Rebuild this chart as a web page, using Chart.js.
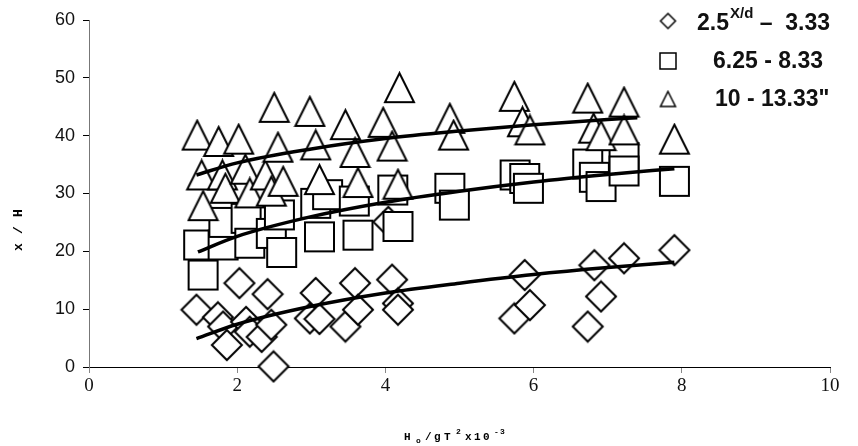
<!DOCTYPE html>
<html>
<head>
<meta charset="utf-8">
<script src="https://cdn.jsdelivr.net/npm/chart.js@4.4.0/dist/chart.umd.min.js"></script>
<style>
  html, body { margin: 0; padding: 0; background: #fff; }
  #wrap { width: 858px; height: 446px; }
</style>
</head>
<body>
<div id="wrap"><canvas id="chart"></canvas></div>
<script>
// spacing group 2.5 - 3.33
const diamondX = [1.45, 1.74, 1.81, 1.86, 2.03, 2.12, 2.17, 2.33, 2.41, 2.46, 2.49, 2.98, 3.06, 3.11,
  3.46, 3.59, 3.63, 4.04, 4.09, 4.17, 4.17, 5.74, 5.88, 5.95, 6.73, 6.82, 6.91, 7.22, 7.90];
const diamondY = [9.9, 8.6, 7.0, 3.8, 14.5, 7.8, 6.1, 5.2, 12.6, 7.3, 0.1, 8.4, 12.8, 8.3,
  7.0, 14.5, 9.9, 25.1, 15.1, 11.0, 9.9, 8.4, 15.9, 10.7, 7.0, 17.6, 12.2, 18.8, 20.2];

// spacing group 6.25 - 8.33
const squareX = [1.48, 1.54, 1.81, 1.82, 2.12, 2.17, 2.46, 2.57, 2.60, 3.06, 3.11, 3.22, 3.58, 3.63,
  4.10, 4.17, 4.87, 4.93, 5.75, 5.88, 5.93, 6.73, 6.82, 6.91, 7.22, 7.22, 7.90];
const squareY = [21.1, 15.9, 21.1, 25.0, 25.7, 21.4, 23.1, 26.3, 19.8, 28.3, 22.5, 29.8, 28.7, 22.8,
  30.6, 24.3, 30.9, 28.0, 33.2, 32.6, 30.9, 35.1, 32.8, 31.2, 36.2, 33.9, 32.1];

// spacing group 10 - 13.33
const triangleX = [1.46, 1.52, 1.54, 1.75, 1.80, 1.84, 2.02, 2.11, 2.17, 2.38, 2.46, 2.50, 2.55, 2.62,
  2.98, 3.06, 3.11, 3.46, 3.59, 3.63, 3.97, 4.09, 4.17, 4.19, 4.87, 4.92, 5.74, 5.85, 5.95,
  6.73, 6.81, 6.91, 7.22, 7.22, 7.90];
const triangleY = [40.1, 33.2, 27.9, 39.0, 33.2, 30.9, 39.4, 34.2, 30.1, 33.2, 30.4, 44.9, 38.0, 32.1,
  44.2, 38.4, 32.4, 41.9, 37.1, 31.9, 42.3, 38.2, 31.6, 48.3, 43.0, 40.1, 46.8, 42.4, 41.0,
  46.5, 41.3, 40.0, 45.8, 41.0, 39.4];

// logarithmic trend lines
const trendDiamondX = [1.45, 2, 3, 4, 5, 6, 7, 7.9];
const trendDiamondY = [4.9, 7.4, 10.5, 12.8, 14.5, 16.0, 17.2, 18.1];
const trendSquareX = [1.47, 2, 3, 4, 5, 6, 7, 7.9];
const trendSquareY = [19.9, 22.6, 26.0, 28.5, 30.4, 32.0, 33.3, 34.3];
const trendTriangleX = [1.45, 2, 3, 4, 5, 6, 7, 7.4];
const trendTriangleY = [33.2, 35.3, 37.7, 39.5, 40.8, 41.9, 42.8, 43.1];

const xTicks = [0, 2, 4, 6, 8, 10];
const yTicks = [0, 10, 20, 30, 40, 50, 60];

function toPoints(xs, ys) {
  return xs.map((x, i) => ({ x: x, y: ys[i] }));
}

// white-filled outlined markers
function makeMarker(shape, size, lw) {
  const c = document.createElement('canvas');
  const pad = Math.ceil(lw);
  c.width = c.height = size + pad * 2;
  const g = c.getContext('2d');
  const m = pad, mid = pad + size / 2;
  g.beginPath();
  if (shape === 'diamond') {
    g.moveTo(mid, m); g.lineTo(m + size, mid); g.lineTo(mid, m + size); g.lineTo(m, mid);
  } else if (shape === 'square') {
    g.rect(m, m, size, size);
  } else {
    g.moveTo(mid, m); g.lineTo(m + size, m + size); g.lineTo(m, m + size);
  }
  g.closePath();
  g.fillStyle = '#fff';
  g.fill();
  g.lineWidth = lw;
  g.strokeStyle = '#000';
  g.stroke();
  return c;
}

const markers = {
  diamond: makeMarker('diamond', 30, 2),
  square: makeMarker('square', 29, 2),
  triangle: makeMarker('triangle', 29, 2)
};
const legendMarkers = {
  diamond: makeMarker('diamond', 15, 1.5),
  square: makeMarker('square', 16, 1.5),
  triangle: makeMarker('triangle', 15, 1.5)
};

function scatterSet(label, data, style, order) {
  return {
    type: 'scatter', label: label, data: data, pointStyle: style,
    pointRadius: 15, pointHoverRadius: 15, borderWidth: 0, order: order, clip: false
  };
}

function trendSet(data) {
  return {
    type: 'line', data: data, showLine: true, borderColor: '#000', borderWidth: 3.5,
    pointRadius: 0, tension: 0.4, cubicInterpolationMode: 'monotone', fill: false, order: 0
  };
}

// axis titles and the legend block
const annotations = {
  id: 'annotations',
  afterDraw(chart) {
    const ctx = chart.ctx;
    ctx.save();
    ctx.fillStyle = '#000';
    ctx.textBaseline = 'alphabetic';

    // x title: H_o/gT^2 x10^-3
    const mono = 'bold 11px "Liberation Mono", "DejaVu Sans Mono", monospace';
    const monoSmall = 'bold 8px "Liberation Mono", "DejaVu Sans Mono", monospace';
    const base = 440;
    const parts = [
      ['H', 404, 0, mono], ['o', 416, 3, monoSmall], ['/', 425, 0, mono], ['g', 434, 0, mono],
      ['T', 444, 0, mono], ['2', 456, -6, monoSmall], ['x', 465, 0, mono], ['1', 474, 0, mono],
      ['0', 483, 0, mono], ['-', 494, -6, monoSmall], ['3', 500, -6, monoSmall]
    ];
    ctx.textAlign = 'left';
    parts.forEach(p => { ctx.font = p[3]; ctx.fillText(p[0], p[1], base + p[2]); });

    // y title, rotated
    ctx.save();
    ctx.translate(19, 230);
    ctx.rotate(-Math.PI / 2);
    ctx.font = 'bold 13px "Liberation Mono", "DejaVu Sans Mono", monospace';
    ctx.textAlign = 'center';
    ctx.textBaseline = 'middle';
    ['x', '/', 'H'].forEach((ch, i) => ctx.fillText(ch, (i - 1) * 17, 0));
    ctx.restore();

    // legend
    const rows = [
      [legendMarkers.diamond, 21],
      [legendMarkers.square, 61],
      [legendMarkers.triangle, 99]
    ];
    rows.forEach(r => ctx.drawImage(r[0], 668 - r[0].width / 2, r[1] - r[0].height / 2));
    const big = 'bold 23px "Liberation Sans", Arial, sans-serif';
    const sup = 'bold 15px "Liberation Sans", Arial, sans-serif';
    ctx.textAlign = 'left';
    ctx.textBaseline = 'middle';
    ctx.fillStyle = '#111';
    ctx.font = big;
    ctx.fillText('2.5', 697, 24);
    let x = 697 + ctx.measureText('2.5').width + 1;
    ctx.font = sup;
    ctx.fillText('X/d', x, 14);
    x += ctx.measureText('X/d').width;
    ctx.font = big;
    ctx.fillText(' \u2013  3.33', x, 24);
    ctx.fillText('6.25 - 8.33', 713, 62);
    ctx.fillText('10 - 13.33"', 715, 100);
    ctx.restore();
  }
};

new Chart(document.getElementById('chart'), {
  type: 'scatter',
  data: {
    datasets: [
      trendSet(toPoints(trendDiamondX, trendDiamondY)),
      trendSet(toPoints(trendSquareX, trendSquareY)),
      trendSet(toPoints(trendTriangleX, trendTriangleY)),
      scatterSet('2.5 - 3.33', toPoints(diamondX, diamondY), markers.diamond, 3),
      scatterSet('6.25 - 8.33', toPoints(squareX, squareY), markers.square, 2),
      scatterSet('10 - 13.33"', toPoints(triangleX, triangleY), markers.triangle, 1)
    ]
  },
  options: {
    responsive: true,
    maintainAspectRatio: false,
    animation: false,
    events: [],
    layout: { padding: { top: 20, right: 28, bottom: 0, left: 0 } },
    plugins: { legend: { display: false }, tooltip: { enabled: false } },
    scales: {
      x: {
        type: 'linear', min: 0, max: 10,
        afterBuildTicks: (s) => { s.ticks = xTicks.map(v => ({ value: v })); },
        afterFit: (s) => { s.height = 79; },
        border: { display: true, color: '#000', width: 1 },
        grid: { drawOnChartArea: false, drawTicks: true, tickLength: 6, color: '#888' },
        ticks: {
          padding: 2, color: '#111',
          font: { family: '"Liberation Serif", "Times New Roman", serif', size: 19 }
        }
      },
      y: {
        type: 'linear', min: 0, max: 60,
        afterBuildTicks: (s) => { s.ticks = yTicks.map(v => ({ value: v })); },
        afterFit: (s) => { s.width = 89; },
        border: { display: true, color: '#777', width: 1 },
        grid: { drawOnChartArea: false, drawTicks: true, tickLength: 6, color: '#000' },
        ticks: {
          padding: 8, color: '#111',
          font: { family: '"Liberation Sans", Arial, sans-serif', size: 18 }
        }
      }
    }
  },
  plugins: [annotations]
});
</script>
</body>
</html>
